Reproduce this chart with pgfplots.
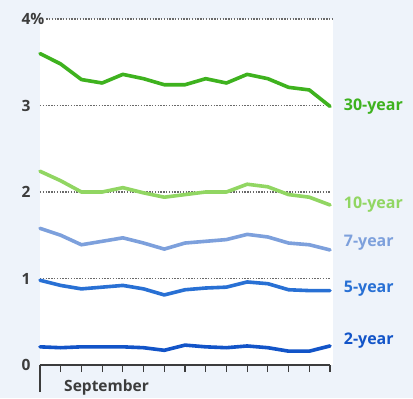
\documentclass[border=0pt]{standalone}
\usepackage{pgfplots}
\pgfplotsset{compat=1.18}
\usepackage{fontspec}
\setmainfont{Open Sans}

\definecolor{bgpanel}{RGB}{238,243,250}
\definecolor{axgray}{RGB}{60,60,60}
\definecolor{gridgray}{RGB}{105,105,105}
\definecolor{yr30}{RGB}{62,178,30}
\definecolor{yr10}{RGB}{145,214,98}
\definecolor{yr7}{RGB}{125,160,220}
\definecolor{yr5}{RGB}{40,112,212}
\definecolor{yr2}{RGB}{18,84,200}

% daily yields, trading days of September
\pgfplotstableread{
d  y30  y10  y7   y5   y2
0  3.60 2.24 1.58 0.98 0.21
1  3.48 2.13 1.50 0.92 0.20
2  3.30 2.00 1.39 0.88 0.21
3  3.26 2.00 1.43 0.90 0.21
4  3.36 2.05 1.47 0.92 0.21
5  3.31 1.99 1.41 0.88 0.20
6  3.24 1.94 1.34 0.81 0.17
7  3.24 1.97 1.41 0.87 0.23
8  3.31 2.00 1.43 0.89 0.21
9  3.26 2.00 1.45 0.90 0.20
10 3.36 2.09 1.51 0.96 0.22
11 3.31 2.06 1.48 0.94 0.20
12 3.21 1.97 1.41 0.87 0.16
13 3.18 1.94 1.39 0.86 0.16
14 2.99 1.85 1.33 0.86 0.22
}\yields

\begin{document}
\begin{tikzpicture}
\fill[bgpanel] (-40pt,-33pt) rectangle (373pt,365pt);
\fill[white] (0pt,0pt) rectangle (293pt,346pt);
\begin{axis}[
  at={(0pt,0pt)}, anchor=south west,
  scale only axis,
  x=20.714pt, y=86.5pt,
  xmin=0, xmax=14, ymin=0, ymax=4,
  clip=false,
  axis x line*=bottom,
  axis y line=none,
  x axis line style={draw=axgray, line width=1.3pt, -},
  xtick={0,...,14}, xticklabels={},
  tick align=outside,
  major tick length=7pt,
  x tick style={draw=axgray, line width=1.1pt},
  extra x ticks={0}, extra x tick labels={},
  extra x tick style={major tick length=27pt},
  ytick=\empty,
  every axis plot/.append style={line width=3.6pt, line join=round, line cap=round},
]
% dotted reference lines
\foreach \v in {1,2,3} {
  \edef\tmp{\noexpand\draw[gridgray, line width=1.2pt, dash pattern=on 1.4pt off 1.4pt]
    (axis cs:0,\v) -- (axis cs:14,\v);}\tmp
}
\draw[gridgray, line width=1.2pt, dash pattern=on 1.4pt off 1.4pt]
  (axis cs:0.3,4) -- (axis cs:14.1,4);

\addplot[yr10] table[x=d, y=y10] {\yields};
\addplot[yr7]  table[x=d, y=y7]  {\yields};
\addplot[yr2]  table[x=d, y=y2]  {\yields};
\addplot[yr5]  table[x=d, y=y5]  {\yields};
\addplot[yr30] table[x=d, y=y30] {\yields};

% y scale
\foreach \v/\t in {0/0,1/1,2/2,3/3} {
  \edef\tmp{\noexpand\node[anchor=east, text=axgray, font=\noexpand\fontsize{15.5}{15}\noexpand\selectfont\noexpand\bfseries]
    at (axis cs:0,\v) [xshift=-6pt] {\t};}\tmp
}
\node[anchor=east, text=axgray, font=\fontsize{15.5}{15}\selectfont\bfseries]
  at (axis cs:0,4) [xshift=-6pt] {4\rlap{\%}};

% month label
\node[anchor=west, text=axgray, font=\fontsize{15.5}{15}\selectfont\bfseries]
  at (axis cs:1.0,0) [yshift=-22pt] {September};

% series labels
\begin{scope}[font=\fontsize{16}{16}\selectfont\bfseries]
\node[anchor=west, text=yr30] at (axis cs:14.5,2.99) {30-year};
\node[anchor=west, text=yr10] at (axis cs:14.5,1.85) {10-year};
\node[anchor=west, text=yr7]  at (axis cs:14.5,1.41) {7-year};
\node[anchor=west, text=yr5]  at (axis cs:14.5,0.88) {5-year};
\node[anchor=west, text=yr2]  at (axis cs:14.5,0.28) {2-year};
\end{scope}
\end{axis}
\end{tikzpicture}
\end{document}
